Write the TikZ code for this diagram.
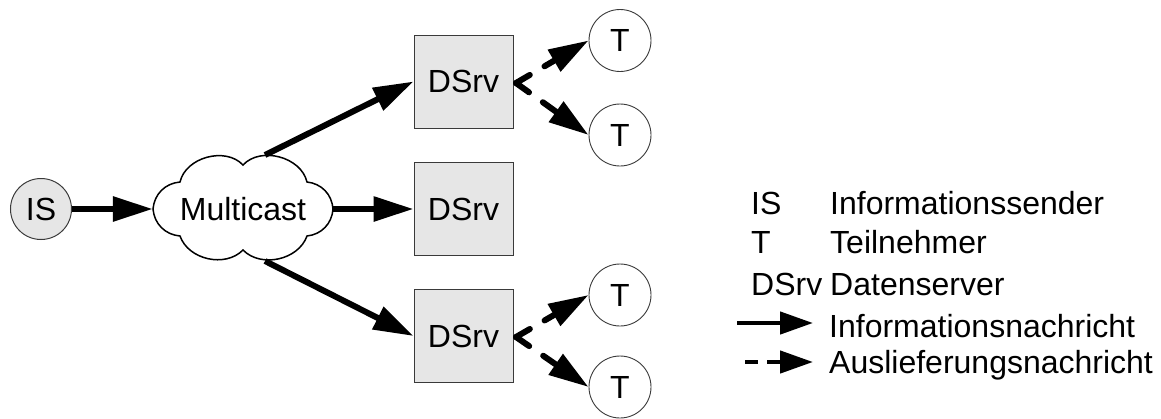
\documentclass[tikz,border=0pt]{standalone}
\usepackage{fontspec}
\setmainfont{Liberation Sans}
\usetikzlibrary{arrows.meta}
\definecolor{boxfill}{HTML}{E6E6E6}
\definecolor{edgegray}{HTML}{3A3A3A}
\tikzset{
  lbl/.style={font=\fontsize{32}{38}\selectfont, inner sep=0pt},
  sender/.style={circle, draw=edgegray, line width=1pt, fill=boxfill,
    minimum size=61pt, inner sep=0pt, font=\fontsize{32}{38}\selectfont},
  user/.style={circle, draw=edgegray, line width=0.9pt, fill=white,
    minimum size=62pt, inner sep=0pt, font=\fontsize{32}{38}\selectfont},
  server/.style={rectangle, draw=edgegray, line width=1pt, fill=boxfill,
    minimum width=99pt, minimum height=93pt, inner sep=0pt,
    font=\fontsize{32}{38}\selectfont},
  net/.style={rectangle, minimum width=180pt, minimum height=108pt,
    inner sep=0pt, font=\fontsize{32}{38}\selectfont},
  cloudline/.style={draw=black, line width=1.5pt, fill=white, line join=miter},
  info/.style={line width=6pt, -{Triangle[length=40pt,width=24pt]}},
  deliver/.style={line width=6pt, line cap=round,
    dash pattern=on 16pt off 17pt, -{Triangle[length=40pt,width=24pt,line cap=butt]}},
  infokey/.style={line width=4.5pt, -{Triangle[length=33pt,width=22pt]}},
  deliverkey/.style={line width=4.5pt, dash pattern=on 13pt off 9pt,
    -{Triangle[length=33pt,width=22pt]}},
}
\begin{document}
\begin{tikzpicture}[x=1pt,y=-1pt]
\useasboundingbox (0,0) rectangle (1161,418);

% multicast cloud outline: eight puffs meeting in sharp notches
\path[cloudline] (153,209)
  to[bend left=40] (180,182)
  to[bend left=62] (243,165)
  to[bend left=62] (307,182)
  to[bend left=40] (333,209)
  to[bend left=40] (307,236)
  to[bend left=58] (243,250)
  to[bend left=58] (180,236)
  to[bend left=40] cycle;

% network part
\node[sender] (is) at (41,209) {IS};
\node[net] (mc) at (243,209) {Multicast};
\node[server] (s1) at (463.5,81.5) {DSrv};
\node[server] (s2) at (463.5,209) {DSrv};
\node[server] (s3) at (463.5,336) {DSrv};
\node[user] (t1) at (620,40.5) {T};
\node[user] (t2) at (620,135) {T};
\node[user] (t3) at (620,295) {T};
\node[user] (t4) at (620,387) {T};

\coordinate (mcup) at (265,155);
\coordinate (mcdown) at (265,261);
\coordinate (s1out) at (516,83);
\coordinate (s3out) at (516,337);

\draw[info] (is.east) -- (mc.west);
\draw[info] (mc.east) -- (s2.west);
\draw[info] (mcup) -- (s1.west);
\draw[info] (mcdown) -- (s3.west);

\draw[deliver] (s1out) -- (t1.west);
\draw[deliver] (s1out) -- (t2.west);
\draw[deliver] (s3out) -- (t3.west);
\draw[deliver] (s3out) -- (t4.west);

% legend
\node[lbl, anchor=base west] (kis) at (751,214) {IS};
\node[lbl, anchor=base west] (kist) at (830,214) {Informationssender};
\node[lbl, anchor=base west] (kt) at (751,253) {T};
\node[lbl, anchor=base west] (ktt) at (830,253) {Teilnehmer};
\node[lbl, anchor=base west] (kds) at (751,295) {DSrv};
\node[lbl, anchor=base west] (kdst) at (830,295) {Datenserver};
\node[lbl, anchor=base west] (kinf) at (829,337) {Informationsnachricht};
\node[lbl, anchor=base west] (kdel) at (829,373) {Auslieferungsnachricht};

\coordinate (ka) at (737,323);
\coordinate (kb) at (813,323);
\coordinate (kc) at (745,362);
\coordinate (kd) at (813,362);
\draw[infokey] (ka) -- (kb);
\draw[deliverkey] (kc) -- (kd);
\end{tikzpicture}
\end{document}
